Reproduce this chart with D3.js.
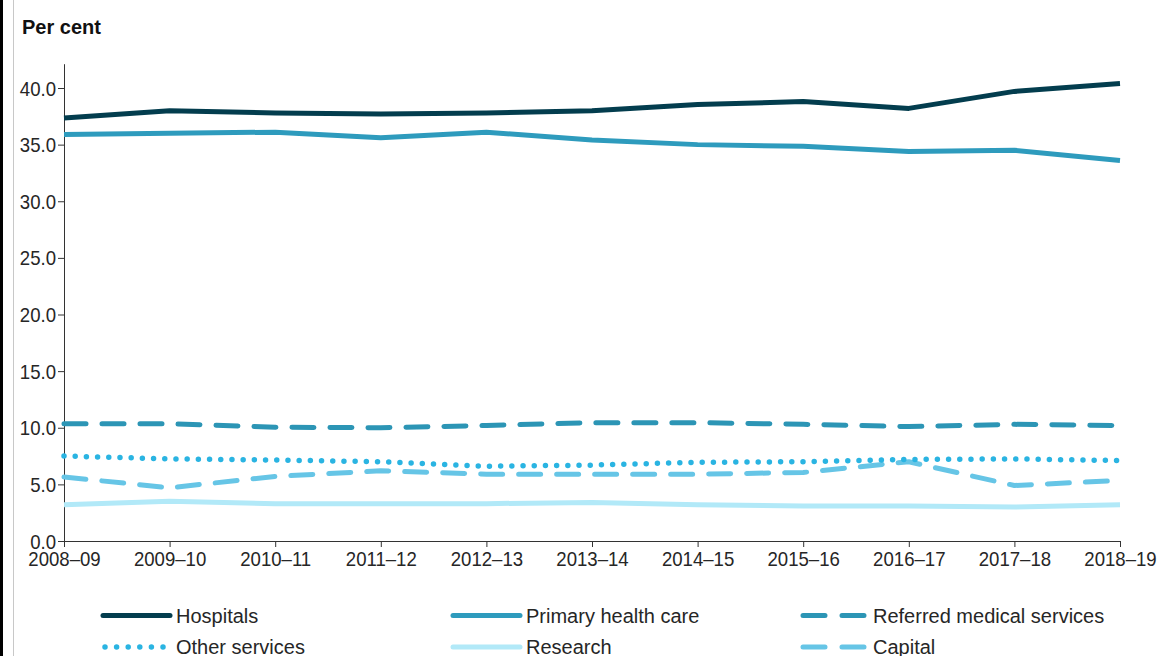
<!DOCTYPE html>
<html><head><meta charset="utf-8">
<script src="https://cdn.jsdelivr.net/npm/d3@7"></script>
<style>body{margin:0;background:#fff}svg{display:block;font-family:"Liberation Sans",Arial,sans-serif}</style>
</head><body>
<svg id="c" width="1162" height="656"></svg>
<script>
const categories=["2008–09","2009–10","2010–11","2011–12","2012–13","2013–14","2014–15","2015–16","2016–17","2017–18","2018–19"];
const hospitals=[37.35,38.0,37.8,37.7,37.8,38.0,38.55,38.8,38.2,39.7,40.4];
const primary=[35.9,36.0,36.1,35.6,36.1,35.4,35.0,34.85,34.4,34.5,33.6];
const referred=[10.35,10.35,10.05,10.0,10.2,10.45,10.45,10.3,10.1,10.3,10.2];
const other=[7.5,7.25,7.15,7.0,6.6,6.7,6.95,7.0,7.2,7.25,7.1];
const capital=[5.65,4.7,5.7,6.2,5.9,5.9,5.9,6.05,7.0,4.9,5.35];
const research=[3.2,3.5,3.3,3.3,3.3,3.4,3.2,3.1,3.1,3.0,3.2];
const yTicks=[0,5,10,15,20,25,30,35,40];
const seriesNames=["Hospitals","Primary health care","Referred medical services","Other services","Research","Capital"];

const series=[
 {name:seriesNames[0],values:hospitals,color:"#033d4e",dash:null,cap:"butt"},
 {name:seriesNames[1],values:primary,color:"#2e9bbd",dash:null,cap:"butt"},
 {name:seriesNames[2],values:referred,color:"#2c95b5",dash:"22,16",cap:"round"},
 {name:seriesNames[3],values:other,color:"#2ab4e2",dash:"0,11.2",cap:"round"},
 {name:seriesNames[4],values:research,color:"#b2e9f8",dash:null,cap:"butt"},
 {name:seriesNames[5],values:capital,color:"#66c5e6",dash:"22,16",cap:"round"}
];

const svg=d3.select("#c");
svg.append("rect").attr("x",0).attr("y",0).attr("width",3).attr("height",656).attr("fill","#000");
svg.append("line").attr("x1",13.5).attr("x2",13.5).attr("y1",0).attr("y2",656).attr("stroke","#c8c8c8").attr("stroke-width",1);

const x=d3.scalePoint().domain(categories).range([64,1120]);
const y=d3.scaleLinear().domain([0,40]).range([541,88]);
const textColor="#262626";
const sx=0.93;

// axes
const yAx=svg.append("g").attr("transform","translate(64,0)")
 .call(d3.axisLeft(y).tickValues(yTicks).tickFormat(d3.format(".1f")).tickSize(6).tickSizeOuter(0));
yAx.select(".domain").remove();
yAx.append("line").attr("x1",0.5).attr("x2",0.5).attr("y1",y(42.1)).attr("y2",541).attr("stroke","#333");
yAx.selectAll(".tick line").attr("stroke","#333");
yAx.selectAll("text").attr("font-size",20).attr("fill",textColor).attr("x",-8/sx).attr("dy","0.35em")
 .attr("transform",`scale(${sx},1)`);

const xAx=svg.append("g").attr("transform","translate(0,541)")
 .call(d3.axisBottom(x).tickSize(6).tickSizeOuter(0));
xAx.select(".domain").remove();
xAx.append("line").attr("x1",64).attr("x2",1120).attr("y1",0.5).attr("y2",0.5).attr("stroke","#333");
xAx.selectAll(".tick line").attr("stroke","#333");
xAx.selectAll("text").attr("font-size",20).attr("fill",textColor).attr("y",11).attr("dy","0.71em")
 .attr("transform",`scale(${sx},1)`);

svg.append("text").attr("x",22).attr("y",34).attr("font-size",20).attr("font-weight","bold").attr("fill","#111").text("Per cent");

const line=d3.line().x((d,i)=>x(categories[i])).y(d=>y(d)).curve(d3.curveLinear);
const order=[4,5,3,2,1,0];
order.forEach(k=>{
 const s=series[k];
 svg.append("path").attr("d",line(s.values)).attr("fill","none")
  .attr("stroke",s.color).attr("stroke-width",s.dash==="0,11.2"?5.5:5)
  .attr("stroke-linejoin","round").attr("stroke-linecap",s.cap)
  .attr("stroke-dasharray",s.dash);
});

// legend
const legX=[103,453,800], legY=[615.5,647];
series.forEach((s,i)=>{
 const lx=legX[i%3], ly=legY[Math.floor(i/3)];
 const g=svg.append("g");
 let x1=lx, x2=lx+67, da=null;
 if(s.dash==="22,16"){x1=lx+3;x2=lx+64;da="22,17";}
 if(s.dash==="0,11.2"){x1=lx+2;x2=lx+66;da="0,11.6";}
 g.append("line").attr("x1",x1).attr("x2",x2).attr("y1",ly).attr("y2",ly)
  .attr("stroke",s.color).attr("stroke-width",s.dash==="0,11.2"?5.5:5)
  .attr("stroke-linecap","round").attr("stroke-dasharray",da);
 g.append("text").attr("x",lx+73).attr("y",ly).attr("dy","0.36em")
  .attr("font-size",20).attr("fill",textColor).text(s.name);
});
</script>
</body></html>
